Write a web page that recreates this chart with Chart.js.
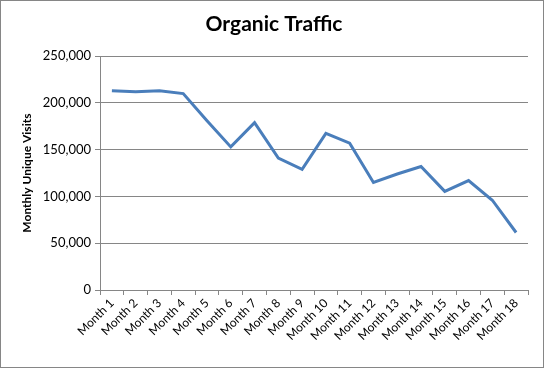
<!DOCTYPE html>
<html>
<head>
<meta charset="utf-8">
<script src="https://cdn.jsdelivr.net/npm/chart.js@4"></script>
<style>
  html, body { margin: 0; padding: 0; background: #fff; }
  #wrap { width: 544px; height: 368px; position: relative; }
</style>
</head>
<body>
<div id="wrap"><canvas id="trafficChart" width="544" height="368"></canvas></div>
<script>
// Organic traffic, monthly unique visits
const MONTHS = ['Month 1','Month 2','Month 3','Month 4','Month 5','Month 6','Month 7','Month 8','Month 9',
  'Month 10','Month 11','Month 12','Month 13','Month 14','Month 15','Month 16','Month 17','Month 18'];
const VISITS = [213000, 212000, 213000, 210000, 181000, 153000, 179000, 141000, 129000,
  167500, 157000, 115000, 124000, 132000, 105500, 117000, 96000, 61500];
const Y_TICKS = [0, 50000, 100000, 150000, 200000, 250000];

const COLORS = {
  line:  '#4a7ebb',
  grid:  '#868686',
  text:  '#000000',
  frame: '#868686',
};

const FONT = "Lato, 'Open Sans', sans-serif";

// white background + thin grey frame around the whole chart
const framePlugin = {
  id: 'frame',
  beforeDraw(chart) {
    const c = chart.ctx;
    c.save();
    c.fillStyle = '#fff';
    c.fillRect(0, 0, chart.width, chart.height);
    c.restore();
  },
  afterDraw(chart) {
    const c = chart.ctx;
    c.save();
    c.strokeStyle = COLORS.frame;
    c.lineWidth = 1;
    c.strokeRect(0.5, 0.5, chart.width - 1, chart.height - 1);
    c.restore();
  },
};

new Chart(document.getElementById('trafficChart'), {
  type: 'line',
  data: {
    labels: MONTHS,
    datasets: [{
      label: 'Monthly Unique Visits',
      data: VISITS,
      borderColor: COLORS.line,
      borderWidth: 3,
      pointRadius: 0,
      fill: false,
      tension: 0,
    }],
  },
  options: {
    responsive: false,
    animation: false,
    layout: { padding: { left: 20, right: 16, top: 0, bottom: 0 } },
    plugins: {
      legend: { display: false },
      tooltip: { enabled: false },
      title: {
        display: true,
        text: 'Organic Traffic',
        color: COLORS.text,
        font: { family: FONT, size: 21, weight: 'bold' },
        padding: { top: 12, bottom: 19 },
      },
    },
    scales: {
      x: {
        offset: true,
        grid: { display: true, drawOnChartArea: false, color: COLORS.grid, tickLength: 5, offset: true },
        border: { color: COLORS.grid, width: 1 },
        ticks: {
          color: COLORS.text,
          font: { family: FONT, size: 12 },
          maxRotation: 45, minRotation: 45,
          autoSkip: false,
          padding: 1,
        },
        afterFit(scale) { scale.height = 78; },
      },
      y: {
        min: 0, max: 250000,
        afterBuildTicks(scale) { scale.ticks = Y_TICKS.map(v => ({ value: v })); },
        grid: { color: COLORS.grid, tickLength: 5 },
        border: { color: COLORS.grid, width: 1 },
        ticks: {
          color: COLORS.text,
          font: { family: FONT, size: 13 },
          padding: 4,
          callback: v => v.toLocaleString('en-US'),
        },
        title: {
          display: true,
          text: 'Monthly Unique Visits',
          color: COLORS.text,
          font: { family: FONT, size: 12, weight: 'bold' },
          padding: 0,
        },
        afterFit(scale) { scale.width = 80; },
      },
    },
  },
  plugins: [framePlugin],
});
</script>
</body>
</html>
